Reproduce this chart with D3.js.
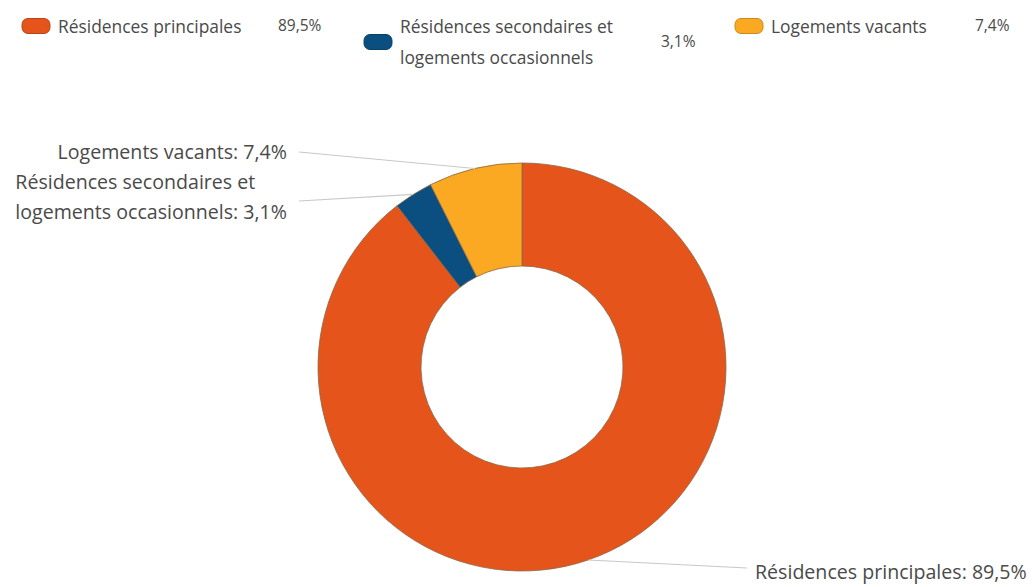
<!DOCTYPE html>
<html>
<head>
<meta charset="utf-8">
<script src="https://cdn.jsdelivr.net/npm/d3@7"></script>
<style>
  html, body { margin: 0; padding: 0; background: #fff; }
  svg { display: block; font-family: "Open Sans", "Noto Sans", sans-serif; }
</style>
</head>
<body>
<svg id="chart" width="1032" height="587"></svg>
<script>
// Répartition des logements par catégorie (%)
const categories = [
  "Résidences principales",
  "Résidences secondaires et logements occasionnels",
  "Logements vacants"
];
const values = [89.5, 3.1, 7.4];
const valueLabels = ["89,5%", "3,1%", "7,4%"];
// Line breaks used for the wrapped names
const legendLines = [
  ["Résidences principales"],
  ["Résidences secondaires et", "logements occasionnels"],
  ["Logements vacants"]
];
const calloutLines = [
  ["Résidences principales: 89,5%"],
  ["Résidences secondaires et", "logements occasionnels: 3,1%"],
  ["Logements vacants: 7,4%"]
];
const colors = ["#E4541B", "#0B4F80", "#FBA822"];

const svg = d3.select("#chart");
const textColor = "#4a4a4a";

const data = categories.map((c, i) => ({ name: c, value: values[i], i }));

// ---- Legend ----
const legendX = [22, 364, 735];
const legendValX = [278, 661, 975];
const legend = svg.append("g").attr("class", "legend");
data.forEach((d, i) => {
  const lines = legendLines[i];
  const g = legend.append("g");
  const midY = lines.length === 1 ? 26 : 42;
  g.append("rect")
    .attr("x", legendX[i]).attr("y", midY - 7.5)
    .attr("width", 28).attr("height", 15)
    .attr("rx", 6).attr("ry", 6)
    .attr("fill", colors[i])
    .attr("stroke", d3.color(colors[i]).darker(0.6))
    .attr("stroke-width", 1);
  const t = g.append("text")
    .attr("fill", textColor)
    .attr("font-size", 17.4);
  lines.forEach((ln, k) => {
    t.append("tspan")
      .attr("x", legendX[i] + 36)
      .attr("y", 26.5 + k * 31.5)
      .attr("dy", "0.35em")
      .text(ln);
  });
  g.append("text")
    .attr("x", legendValX[i])
    .attr("y", midY)
    .attr("dy", "0.35em")
    .attr("fill", textColor)
    .attr("font-size", 15.5)
    .text(valueLabels[i]);
});

// ---- Donut ----
const cx = 522, cy = 367;
const outerR = 204, innerR = 101;

const pie = d3.pie().sort(null).value(d => d.value);
const arcs = pie(data);
const arc = d3.arc().innerRadius(innerR).outerRadius(outerR);

const donut = svg.append("g").attr("transform", `translate(${cx},${cy})`);
donut.selectAll("path")
  .data(arcs)
  .join("path")
  .attr("d", arc)
  .attr("fill", (d, i) => colors[i])
  .attr("stroke", "#8a6a4a")
  .attr("stroke-width", 0.8);

// ---- Callout labels ----
// x: text edge, y: vertical centre of the text block, ly: where the leader line ends
const calloutPos = [
  { x: 755, y: 572, ly: 568, anchor: "start" },
  { x: 287, y: 197.5, ly: 201, anchor: "end" },
  { x: 287, y: 152, ly: 152, anchor: "end" }
];
const calloutLine = d3.line();
const labels = svg.append("g").attr("class", "callouts");
arcs.forEach((a, i) => {
  const mid = (a.startAngle + a.endAngle) / 2;
  const px = cx + Math.sin(mid) * outerR;
  const py = cy - Math.cos(mid) * outerR;
  const p = calloutPos[i];
  const lineEndX = p.anchor === "start" ? p.x - 8 : p.x + 12;
  labels.append("path")
    .attr("d", calloutLine([[px, py], [lineEndX, p.ly]]))
    .attr("fill", "none")
    .attr("stroke", "#c8c8c8")
    .attr("stroke-width", 1.2);
  const lines = calloutLines[i];
  const t = labels.append("text")
    .attr("fill", textColor)
    .attr("font-size", 19.6);
  const spans = lines.map((ln, k) =>
    t.append("tspan")
      .attr("y", p.y + (k - (lines.length - 1) / 2) * 30)
      .attr("dy", "0.35em")
      .text(ln)
  );
  // multi-line labels form a left-aligned block placed against the edge
  const widths = spans.map(s => s.node().getComputedTextLength());
  const blockW = d3.max(widths);
  const left = p.anchor === "start" ? p.x : p.x - blockW;
  spans.forEach(s => s.attr("x", left));
});
</script>
</body>
</html>
